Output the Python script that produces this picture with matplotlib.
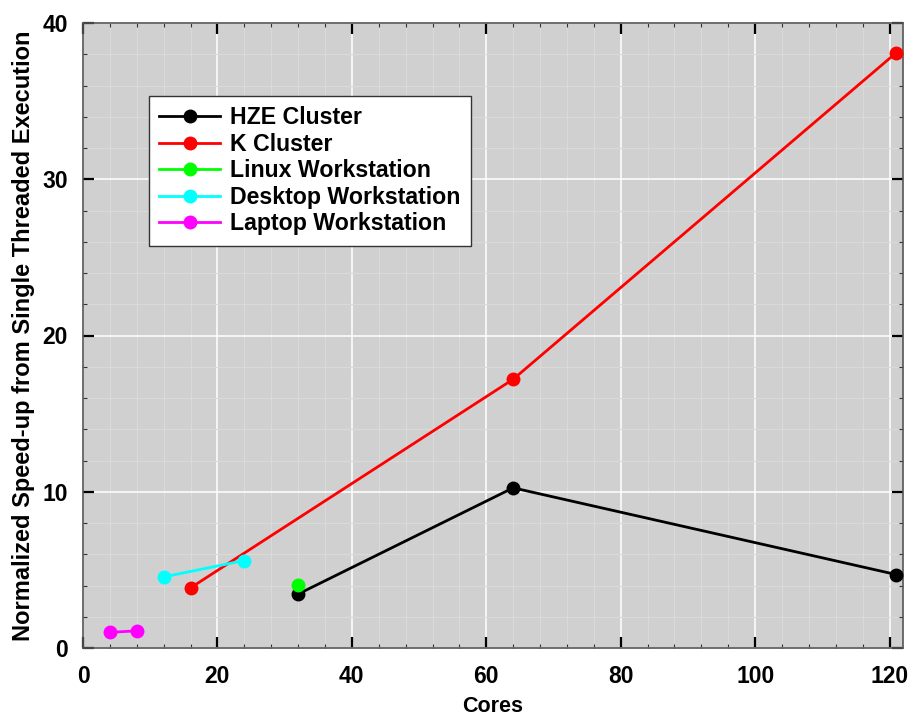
import matplotlib
matplotlib.use("Agg")
import matplotlib.pyplot as plt
from matplotlib.ticker import MultipleLocator

plt.rcParams['font.family'] = ['Liberation Sans', 'DejaVu Sans']

hze_x = [32, 64, 121]
hze_y = [3.45, 10.25, 4.7]
k_x = [16, 64, 121]
k_y = [3.85, 17.2, 38.1]
linux_x = [32]
linux_y = [4.05]
desk_x = [12, 24]
desk_y = [4.55, 5.6]
lap_x = [4, 8]
lap_y = [1.0, 1.1]

series = [
    ("HZE Cluster", hze_x, hze_y, "#000000"),
    ("K Cluster", k_x, k_y, "#ff0000"),
    ("Linux Workstation", linux_x, linux_y, "#00ff00"),
    ("Desktop Workstation", desk_x, desk_y, "#00ffff"),
    ("Laptop Workstation", lap_x, lap_y, "#ff00ff"),
]

fig = plt.figure(figsize=(9.14, 7.17), dpi=100)
ax = fig.add_axes([83/914, 1-648/717, 820/914, 625/717])
ax.set_facecolor("#d0d0d0")

for name, x, y, c in series:
    ax.plot(x, y, color=c, lw=2, marker='o', ms=9, label=name, clip_on=False, zorder=3)

ax.set_xlim(0, 122)
ax.set_ylim(0, 40)
ax.xaxis.set_major_locator(MultipleLocator(20))
ax.xaxis.set_minor_locator(MultipleLocator(4))
ax.yaxis.set_major_locator(MultipleLocator(10))
ax.yaxis.set_minor_locator(MultipleLocator(2))
ax.grid(which='major', color='white', lw=1.1)
ax.grid(which='minor', color='#dadada', lw=0.8)
ax.set_axisbelow(True)
ax.tick_params(which='both', direction='in', top=True, right=True, color='black')
ax.tick_params(which='major', length=8, width=1.6, labelsize=16.5)
ax.tick_params(axis='x', which='major', pad=12)
ax.tick_params(axis='y', which='major', pad=11)
ax.tick_params(which='minor', length=3, width=0.8, color='#333333')
for lab in ax.get_xticklabels() + ax.get_yticklabels():
    lab.set_fontweight('bold')
for s in ax.spines.values():
    s.set_color('#555555')
    s.set_linewidth(1.2)

ax.set_xlabel("Cores", fontsize=15.5, fontweight='bold', labelpad=6)
ax.set_ylabel("Normalized Speed-up from Single Threaded Execution", fontsize=17, fontweight='bold', labelpad=5)

leg = ax.legend(loc='upper left', bbox_to_anchor=(66/820, 1-73/625),
                prop={'weight': 'bold', 'size': 16.7},
                fancybox=False, framealpha=1, edgecolor='#333333', handlelength=2.6,
                borderpad=0.45, labelspacing=0.15, handletextpad=0.45, borderaxespad=0)
leg.get_frame().set_linewidth(1.0)

fig.savefig("out.png", dpi=100)
